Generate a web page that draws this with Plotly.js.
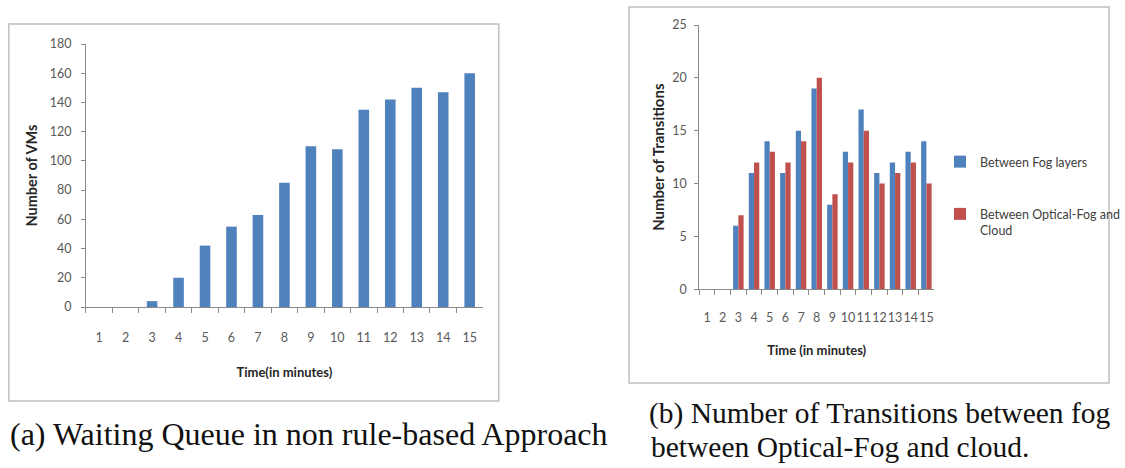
<!DOCTYPE html>
<html>
<head>
<meta charset="utf-8">
<script src="https://cdn.plot.ly/plotly-3.0.1.min.js"></script>
<style>
  html, body { margin: 0; padding: 0; background: #ffffff; }
  #chart { width: 1125px; height: 468px; }
</style>
</head>
<body>
<div id="chart"></div>
<script>
// ---- data ----
const minutes = ["1","2","3","4","5","6","7","8","9","10","11","12","13","14","15"];
const waitingVMs = [0, 0, 4, 20, 42, 55, 63, 85, 110, 108, 135, 142, 150, 147, 160];
const fogLayers = [0, 0, 6, 11, 14, 11, 15, 19, 8, 13, 17, 11, 12, 13, 14];
const opticalFogCloud = [0, 0, 7, 12, 13, 12, 14, 20, 9, 12, 15, 10, 11, 12, 10];
const seriesNames = ["Between Fog layers", "Between Optical-Fog and<br>Cloud"];
const captionA = "(a) Waiting Queue in non rule-based Approach";
const captionB1 = "(b) Number of Transitions between fog";
const captionB2 = "between Optical-Fog and cloud.";

// ---- pixel helpers for layout placement ----
const W = 1125, H = 468;
const px = x => x / W;
const py = y => 1 - y / H;

const BLUE = "#4F81BD", RED = "#C0504D";
const AXIS = "#8a8a8a", TICKTXT = "#595959", TITLE = "#262626";
const FONT = "Lato, 'Open Sans', sans-serif";
const SERIF = "'Liberation Serif', 'DejaVu Serif', serif";

const traces = [
  { type: "bar", x: minutes, y: waitingVMs, xaxis: "x", yaxis: "y",
    marker: { color: BLUE }, width: 0.4, showlegend: false, name: "Waiting VMs" },
  { type: "bar", x: minutes, y: fogLayers, xaxis: "x2", yaxis: "y2",
    marker: { color: BLUE }, name: seriesNames[0], legendgroup: "a" },
  { type: "bar", x: minutes, y: opticalFogCloud, xaxis: "x2", yaxis: "y2",
    marker: { color: RED }, name: seriesNames[1], legendgroup: "b" }
];

function xAxis(domain, anchor, title, standoff, lblStandoff, lblSize) {
  return {
    domain: domain, anchor: anchor, type: "category", tickson: "boundaries",
    dtick: 1, tickangle: 0, ticks: "outside", ticklen: 5, tickcolor: AXIS, tickwidth: 1,
    showline: true, linecolor: AXIS, linewidth: 1, showgrid: false, zeroline: false,
    tickfont: { family: FONT, size: lblSize, color: TICKTXT },
    ticklabelstandoff: lblStandoff, automargin: false, fixedrange: true,
    title: { text: title, standoff: standoff,
             font: { family: FONT, size: 13, weight: "bold", color: TITLE } }
  };
}
function yAxis(domain, anchor, range, dtick, title, standoff, lblStandoff, titleSize) {
  return {
    domain: domain, anchor: anchor, range: range, dtick: dtick,
    ticks: "outside", ticklen: 4, tickcolor: AXIS, tickwidth: 1,
    showline: true, linecolor: AXIS, linewidth: 1, showgrid: false, zeroline: false,
    tickfont: { family: FONT, size: 12.5, color: TICKTXT },
    ticklabelstandoff: lblStandoff, automargin: false, fixedrange: true,
    title: { text: title, standoff: standoff,
             font: { family: FONT, size: titleSize, weight: "bold", color: TITLE } }
  };
}

const layout = {
  width: W, height: H,
  margin: { l: 0, r: 0, t: 0, b: 0 },
  paper_bgcolor: "#ffffff", plot_bgcolor: "rgba(0,0,0,0)",
  font: { family: FONT, color: TICKTXT },
  barmode: "group", bargap: 0.33, bargroupgap: 0,
  xaxis: xAxis([px(87), px(489)], "y", "Time(in minutes)", 23, 19, 12.5),
  yaxis: yAxis([py(307), py(44)], "x", [0, 180], 20, "Number of VMs", 8, 7, 14.5),
  xaxis2: xAxis([px(708), px(946)], "y2", "Time (in minutes)", 21, 17, 12.5),
  yaxis2: yAxis([py(289.3), py(25)], "x2", [0, 25], 5, "Number of Transitions", 3, 5, 15),
  showlegend: true,
  legend: {
    x: px(952), y: py(147), xanchor: "left", yanchor: "top",
    bgcolor: "rgba(0,0,0,0)", borderwidth: 0,
    font: { family: FONT, size: 12.5, color: "#404040" },
    traceorder: "grouped", tracegroupgap: 33, valign: "top"
  },
  shapes: [
    { type: "rect", xref: "paper", yref: "paper", layer: "below",
      x0: px(9), x1: px(505), y0: py(401), y1: py(24),
      line: { color: "#bfbfbf", width: 1.5 }, fillcolor: "rgba(0,0,0,0)" },
    { type: "rect", xref: "paper", yref: "paper", layer: "below",
      x0: px(637), x1: px(1123), y0: py(383), y1: py(7),
      line: { color: "#bfbfbf", width: 1.5 }, fillcolor: "rgba(0,0,0,0)" }
  ],
  annotations: [
    { text: captionA, xref: "paper", yref: "paper", x: px(8), y: py(434),
      xanchor: "left", yanchor: "middle", showarrow: false,
      font: { family: SERIF, size: 32, color: "#111111" } },
    { text: captionB1, xref: "paper", yref: "paper", x: px(655), y: py(413),
      xanchor: "left", yanchor: "middle", showarrow: false,
      font: { family: SERIF, size: 29.5, color: "#111111" } },
    { text: captionB2, xref: "paper", yref: "paper", x: px(657), y: py(447),
      xanchor: "left", yanchor: "middle", showarrow: false,
      font: { family: SERIF, size: 29.5, color: "#111111" } }
  ]
};

Plotly.newPlot("chart", traces, layout, { displayModeBar: false, staticPlot: true });
</script>
</body>
</html>
